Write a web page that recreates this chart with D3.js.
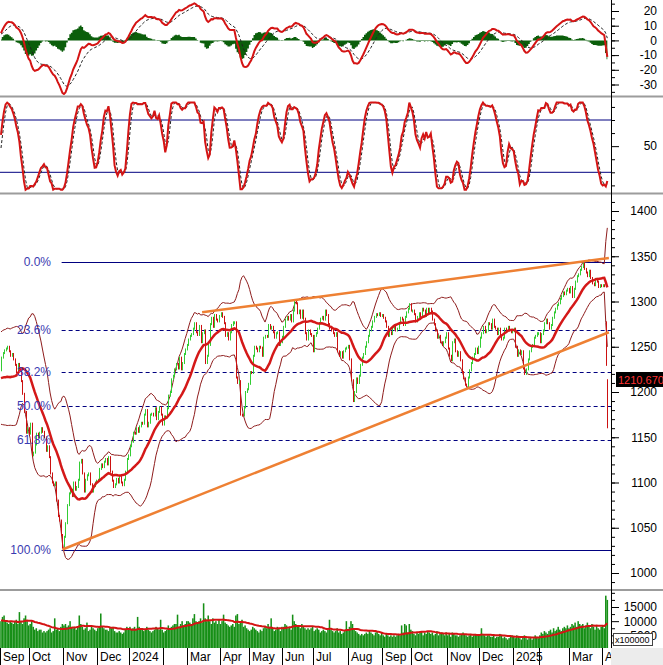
<!DOCTYPE html>
<html>
<head>
<meta charset="utf-8">
<script src="https://cdn.jsdelivr.net/npm/d3@7"></script>
<style>
  body { margin: 0; background: #fff; }
  svg { display: block; font-family: "Liberation Sans", Arial, sans-serif; }
</style>
</head>
<body>
<svg id="chart" width="663" height="665"></svg>
<script>
// month labels on the time axis (Feb has no label in the original)
const monthLabels = ["Sep", "Oct", "Nov", "Dec", "2024", "", "Mar", "Apr", "May", "Jun", "Jul", "Aug",
  "Sep", "Oct", "Nov", "Dec", "2025", "", "Mar", "Apr"];

// Jul-Aug 2023, only used so the indicators are warmed up at the left edge
const warmupCloses = [1125, 1128, 1135, 1140, 1138, 1145, 1150, 1155, 1160, 1165, 1172, 1170, 1175, 1180, 1178,
  1185, 1192, 1195, 1200, 1205, 1207,
  1215, 1222, 1218, 1225, 1232, 1240, 1245, 1242, 1247, 1244, 1235, 1230, 1222, 1208, 1178, 1180, 1172, 1180,
  1186, 1192, 1200, 1212, 1224];
const warmupVolumes = [8, 9, 8.5, 10, 9, 8, 9.5, 10, 9, 11, 10, 9, 8.5, 9, 10, 11, 9.5, 10, 11, 12, 10,
  11, 12, 10, 11, 12, 13, 12, 10, 11, 9, 10, 9.5, 10, 11, 14, 10, 9, 8.5, 9, 8, 9, 9.5, 10];

// daily closes, one list per month (Sep 2023 .. Apr 2025)
const closesByMonth = [
  [1238, 1243, 1246, 1248, 1250, 1245, 1240, 1242, 1236, 1230, 1222, 1231, 1226, 1212, 1198, 1178, 1155, 1160, 1154],
  [1165, 1130, 1133, 1142, 1154, 1150, 1155, 1160, 1156, 1150, 1135, 1140, 1128, 1110, 1100, 1097, 1100, 1080, 1063, 1058, 1042, 1028],
  [1040, 1055, 1075, 1088, 1092, 1085, 1100, 1092, 1095, 1103, 1122, 1125, 1110, 1090, 1103, 1108, 1110, 1098, 1090, 1096, 1100, 1102],
  [1103, 1115, 1120, 1117, 1123, 1126, 1120, 1128, 1112, 1102, 1095, 1098, 1104, 1100, 1106, 1100, 1097, 1103, 1112, 1126, 1130],
  [1140, 1145, 1155, 1154, 1160, 1156, 1162, 1166, 1165, 1175, 1180, 1162, 1166, 1175, 1176, 1174, 1182, 1170, 1178, 1183, 1175, 1164],
  [1173, 1172, 1182, 1196, 1200, 1214, 1218, 1225, 1231, 1226, 1238, 1225, 1232, 1242, 1247, 1252],
  [1258, 1262, 1264, 1270, 1276, 1266, 1263, 1273, 1255, 1265, 1268, 1232, 1240, 1252, 1275, 1282, 1272, 1285, 1280, 1278, 1284],
  [1287, 1283, 1276, 1262, 1265, 1258, 1266, 1274, 1277, 1277, 1216, 1210, 1212, 1175, 1174, 1183, 1200, 1203, 1209],
  [1222, 1221, 1240, 1250, 1248, 1245, 1250, 1249, 1240, 1260, 1262, 1261, 1274, 1270, 1272, 1266, 1260, 1265, 1266, 1252, 1255, 1261],
  [1272, 1280, 1283, 1280, 1285, 1278, 1290, 1300, 1298, 1287, 1290, 1282, 1290, 1281, 1265, 1258, 1268, 1264, 1262, 1245],
  [1262, 1265, 1270, 1276, 1281, 1283, 1280, 1290, 1285, 1275, 1270, 1268, 1265, 1262, 1265, 1245, 1240, 1244, 1238, 1245, 1248, 1249, 1251],
  [1236, 1213, 1190, 1200, 1215, 1210, 1218, 1230, 1238, 1242, 1250, 1255, 1262, 1268, 1272, 1278, 1283, 1286, 1285, 1287, 1284, 1285],
  [1282, 1278, 1272, 1262, 1266, 1264, 1270, 1274, 1268, 1270, 1276, 1282, 1280, 1274, 1283, 1288, 1292, 1297, 1290],
  [1290, 1286, 1278, 1283, 1287, 1284, 1292, 1290, 1284, 1292, 1288, 1292, 1289, 1280, 1275, 1268, 1260, 1262, 1255, 1252, 1255, 1260, 1265],
  [1248, 1240, 1235, 1255, 1258, 1245, 1240, 1244, 1235, 1222, 1215, 1208, 1206, 1216, 1224, 1232, 1238, 1242, 1248, 1243, 1250],
  [1260, 1265, 1272, 1266, 1268, 1276, 1275, 1270, 1280, 1272, 1270, 1264, 1270, 1262, 1258, 1260, 1270, 1268, 1272, 1268, 1266, 1267],
  [1270, 1250, 1240, 1246, 1242, 1245, 1226, 1220, 1225, 1236, 1245, 1250, 1252, 1260, 1262, 1265, 1265],
  [1255, 1264, 1268, 1276, 1280, 1276, 1270, 1274, 1282, 1288, 1292, 1296, 1298, 1303, 1306, 1310, 1308, 1312, 1314, 1310],
  [1316, 1305, 1314, 1322, 1328, 1330, 1335, 1338, 1342, 1336, 1332, 1328, 1334, 1326, 1320, 1318, 1325, 1322, 1316, 1318, 1317],
  [1318, 1317, 1229.84, 1210.67]
];

// daily volume in thousands of x100000 shares, one list per month
const volumesByMonth = [
  [10, 11.5, 12, 10, 9.5, 9, 10, 9.5, 9, 10, 10.5, 9, 13.2, 10, 9, 11, 12, 10, 8.5],
  [9, 10, 8, 7, 7.5, 6.5, 7, 7, 6, 6.5, 6, 6.5, 7, 7.5, 6, 6.5, 11, 7, 7.5, 6.5, 8, 9],
  [8.5, 9, 8, 8.5, 10, 8, 7.5, 8, 7, 8, 12, 9, 8, 7, 7.5, 9.5, 6.5, 7, 8, 7.5, 7, 6.5],
  [7.5, 8, 12.7, 8, 7.5, 7, 7, 6.5, 8, 7.5, 8, 6.5, 6, 6, 6.5, 6, 5.5, 6, 7, 8, 7.5],
  [8, 7, 7.5, 8, 7, 11.5, 8, 7, 7.5, 6.5, 7, 8, 7, 6.5, 6, 6.5, 7, 8, 7.5, 7, 10.5, 7],
  [6, 6.5, 7, 8.5, 7, 8, 8.5, 9, 9, 12.3, 8, 9, 10, 8.5, 9, 10],
  [10, 9.5, 9, 11, 12.5, 10, 9, 10, 11, 9.5, 16.3, 11, 10, 12, 10, 9, 11, 9.5, 10, 9, 10.5],
  [9, 10, 12.3, 9.5, 9, 8.5, 8, 8.5, 9, 8, 12, 12.5, 9, 10, 10.5, 8, 8.5, 7.5, 7],
  [6.5, 7, 8, 7.5, 7, 6.5, 6, 7, 6.5, 7.5, 8, 7.5, 9, 8, 11, 7.5, 6.5, 7, 8, 7.5, 6.5, 8],
  [8, 9, 8.5, 7.5, 8, 7, 12.3, 10, 9, 8, 8.5, 7.5, 9, 8, 7.5, 7, 7.5, 7, 7.5, 8],
  [6.5, 7, 7.5, 7, 6, 6.5, 7, 6.5, 6, 7, 10.5, 7, 6.5, 6, 6.5, 7.5, 6, 6.5, 5.5, 6, 6.5, 10, 7],
  [8, 10, 9, 7, 6.5, 6, 5.5, 5, 5.5, 5, 5.5, 6, 5.5, 6.5, 6, 5.5, 5, 6, 6.5, 5.5, 5, 6],
  [5, 4.5, 5.5, 5, 4.5, 5, 4.5, 5, 4.5, 5, 5.5, 5, 8.5, 6, 9, 8.5, 6, 9, 7],
  [6.5, 5.5, 5, 6, 5.5, 6, 6.5, 5, 6, 5.5, 6.5, 6, 5.5, 6, 5, 5.5, 6.5, 5, 5.5, 6, 5.5, 5, 6],
  [5, 5.5, 4.5, 6, 5.5, 5, 5, 4.5, 5, 5.5, 6, 5.5, 5, 4.5, 5, 5.5, 4.5, 5, 5.5, 5, 5],
  [5, 7.5, 5.5, 5, 4.5, 5, 5, 4.5, 4.5, 5, 4, 4.5, 4.5, 5.5, 5, 4, 4.5, 4, 3.5, 4, 4.5, 5],
  [4.5, 4, 5, 4.5, 4, 3.5, 4.5, 5, 4, 3.5, 4, 4.5, 3.5, 4, 5, 4.5, 4],
  [5, 6, 5.5, 6.5, 6, 5.5, 6.5, 7, 6, 7.5, 6.5, 7, 8, 7, 6.5, 7.5, 8, 7.5, 8.5, 7.5],
  [8, 9, 8.5, 9.5, 8, 10, 9, 8.5, 9, 7.5, 8.5, 9.5, 8, 7.5, 9, 8, 7, 8.5, 7.5, 7, 8],
  [8.5, 7.5, 19, 17.5]
];

// bars whose high/low is not the prev-close..close span: [day, high, low]
const barOverrides = [[394, 1277, 1230], [395, 1213, 1161]];

const fibHigh = 1344;
const fibLow = 1025;
const fibRatios = [0, 0.236, 0.382, 0.5, 0.618, 1];
const trendUpper = [[131, 1288], [396, 1348]];
const trendLower = [[40, 1026], [396, 1266]];
const lastPrice = 1210.67;

const svg = d3.select('#chart');
const W = 663;
const axisX = 611;

const closes = warmupCloses.concat(closesByMonth.flat());
const volumes = warmupVolumes.concat(volumesByMonth.flat()).map(v => v * 1000);
const off = warmupCloses.length;
const n = closes.length - off;

// bar extents
const highs = closes.map((c, g) => g === 0 ? c : Math.max(c, closes[g - 1]));
const lows = closes.map((c, g) => g === 0 ? c : Math.min(c, closes[g - 1]));
barOverrides.forEach(([i, h, l]) => { highs[i + off] = h; lows[i + off] = l; });

// indicators
const sma = (arr, p) => arr.map((_, i) => i < p - 1 ? null : d3.mean(arr.slice(i - p + 1, i + 1)));
const ema = (arr, p) => { const k = 2 / (p + 1); let prev; return arr.map((v, i) => prev = i === 0 ? v : v * k + prev * (1 - k)); };

const ma20 = sma(closes, 20);
const sd20 = closes.map((_, i) => {
  if (i < 19) return null;
  const s = closes.slice(i - 19, i + 1), m = d3.mean(s);
  return Math.sqrt(d3.mean(s, v => (v - m) * (v - m)));
});
const ema26 = ema(closes, 26);
const macd = ema(closes, 12).map((v, i) => v - ema26[i]);
const signal = ema(macd, 9);
const raw = closes.map((c, i) => {
  if (i < 13) return 50;
  const hi = d3.max(highs.slice(i - 13, i + 1)), lo = d3.min(lows.slice(i - 13, i + 1));
  return hi === lo ? 50 : (c - lo) / (hi - lo) * 100;
});
const stochK = sma(raw, 4).map(v => v ?? 50);
const stochD = sma(stochK, 3);
const volMa = sma(volumes, 20);

const days = d3.range(n).map(i => {
  const g = i + off;
  return {
    i, close: closes[g], open: closes[g - 1], high: highs[g], low: lows[g], vol: volumes[g],
    ma: ma20[g], up: ma20[g] + 2 * sd20[g], dn: ma20[g] - 2 * sd20[g],
    macd: macd[g], signal: signal[g], hist: macd[g] - signal[g], k: stochK[g], d: stochD[g], vma: volMa[g]
  };
});

// scales
const x = d3.scaleLinear().domain([0, 395]).range([1, 1 + 395 * 1.535]);
const yMacd = d3.scaleLinear().domain([-30, 20]).range([84.5, 11]);
const yStoch = d3.scaleLinear().domain([20, 80]).range([172.3, 120]);
const yMain = d3.scaleLinear().domain([1000, 1400]).range([573, 211]);
const yVol = d3.scaleLinear().domain([0, 15000]).range([649.5, 607]);

const defs = svg.append('defs');
const clip = (id, x0, y0, x1, y1) => defs.append('clipPath').attr('id', id)
  .append('rect').attr('x', x0).attr('y', y0).attr('width', x1 - x0).attr('height', y1 - y0);
clip('c-macd', 0, 0, axisX, 95);
clip('c-stoch', 0, 98, axisX, 192);
clip('c-main', 0, 195, axisX, 589);
clip('c-vol', 0, 591, axisX, 648);
clip('c-time', 0, 648, axisX, 665);

// panel separators
[96.5, 193.5, 590].forEach(y => svg.append('line')
  .attr('x1', 0).attr('x2', W).attr('y1', y).attr('y2', y)
  .attr('stroke', '#9c9c9c').attr('stroke-width', 2));

// ---- MACD panel
const gm = svg.append('g').attr('clip-path', 'url(#c-macd)');
gm.append('path')
  .datum(days)
  .attr('fill', '#0b5e0b')
  .attr('d', d3.area().x(d => x(d.i)).y0(yMacd(0)).y1(d => yMacd(d.hist)).curve(d3.curveStep));
gm.append('path')
  .datum(days)
  .attr('fill', 'none').attr('stroke', '#222').attr('stroke-width', 1).attr('stroke-dasharray', '3,2')
  .attr('d', d3.line().x(d => x(d.i)).y(d => yMacd(d.signal)));
gm.append('path')
  .datum(days)
  .attr('fill', 'none').attr('stroke', '#d41414').attr('stroke-width', 2)
  .attr('d', d3.line().x(d => x(d.i)).y(d => yMacd(d.macd)));

// ---- Stochastic panel
const gs = svg.append('g').attr('clip-path', 'url(#c-stoch)');
[80, 20].forEach(v => gs.append('line')
  .attr('x1', 0).attr('x2', axisX).attr('y1', yStoch(v)).attr('y2', yStoch(v))
  .attr('stroke', '#000080').attr('stroke-width', 1));
gs.append('path')
  .datum(days)
  .attr('fill', 'none').attr('stroke', '#222').attr('stroke-width', 1).attr('stroke-dasharray', '3,2')
  .attr('d', d3.line().x(d => x(d.i)).y(d => yStoch(d.d)));
gs.append('path')
  .datum(days)
  .attr('fill', 'none').attr('stroke', '#d41414').attr('stroke-width', 2)
  .attr('d', d3.line().x(d => x(d.i)).y(d => yStoch(d.k)));

// ---- Main price panel
const g = svg.append('g').attr('clip-path', 'url(#c-main)');

// Fibonacci levels
const fib = fibRatios.map(r => ({ r, v: fibHigh - (fibHigh - fibLow) * r }));
g.selectAll('.fib')
  .data(fib)
  .enter().append('line')
    .attr('x1', x(39.5)).attr('x2', axisX)
    .attr('y1', d => Math.round(yMain(d.v)) + 0.5).attr('y2', d => Math.round(yMain(d.v)) + 0.5)
    .attr('stroke', '#000080').attr('stroke-width', 1)
    .attr('stroke-dasharray', d => d.r === 0 || d.r === 1 ? null : '4,3');
svg.selectAll('.fib-label')
  .data(fib)
  .enter().append('text')
    .attr('x', 51).attr('y', d => yMain(d.v) + 4)
    .attr('text-anchor', 'end').attr('font-size', 12).attr('fill', '#3a3ab0')
    .text(d => (d.r * 100).toFixed(1) + '%');

// Bollinger bands and MA20
const bandLine = key => d3.line().x(d => x(d.i)).y(d => yMain(d[key]));
['up', 'dn'].forEach(k => g.append('path')
  .datum(days)
  .attr('fill', 'none').attr('stroke', '#8e1c1c').attr('stroke-width', 1)
  .attr('d', bandLine(k)));

// price bars
g.selectAll('.bar')
  .data(days)
  .enter().append('line')
    .attr('x1', d => Math.round(x(d.i)) + 0.5).attr('x2', d => Math.round(x(d.i)) + 0.5)
    .attr('y1', d => yMain(d.high) - 1)
    .attr('y2', d => Math.max(yMain(d.low) + 1, yMain(d.high) + 2))
    .attr('stroke', d => (barOverrides.some(o => o[0] === d.i) ? d.close < d.high : d.close < d.open) ? '#cc1111' : '#33cc33')
    .attr('stroke-width', 1);

g.append('path')
  .datum(days)
  .attr('fill', 'none').attr('stroke', '#d41818').attr('stroke-width', 2.5)
  .attr('d', bandLine('ma'));

// trendlines
[trendUpper, trendLower].forEach(t => g.append('line')
  .attr('x1', x(t[0][0])).attr('y1', yMain(t[0][1]))
  .attr('x2', x(t[1][0])).attr('y2', yMain(t[1][1]))
  .attr('stroke', '#ee8033').attr('stroke-width', 2.5));

// ---- Volume panel
const gv = svg.append('g').attr('clip-path', 'url(#c-vol)');
gv.selectAll('.vol')
  .data(days)
  .enter().append('rect')
    .attr('x', d => x(d.i) - 0.77).attr('width', 1.54)
    .attr('y', d => yVol(d.vol)).attr('height', d => yVol(0) - yVol(d.vol))
    .attr('fill', '#168f16');
gv.append('path')
  .datum(days)
  .attr('fill', 'none').attr('stroke', '#d41414').attr('stroke-width', 2)
  .attr('d', d3.line().x(d => x(d.i)).y(d => yVol(d.vma)));

// ---- right axes
svg.append('line')
  .attr('x1', axisX + 0.5).attr('x2', axisX + 0.5).attr('y1', 0).attr('y2', 648)
  .attr('stroke', '#000');

function rightAxis(scale, major, minor, y0, y1) {
  const keep = v => scale(v) >= y0 && scale(v) <= y1;
  svg.append('g')
    .attr('transform', `translate(${axisX},0)`)
    .call(d3.axisRight(scale).tickValues(minor.filter(keep)).tickSize(4).tickFormat(''))
    .call(a => a.select('.domain').remove());
  svg.append('g')
    .attr('transform', `translate(${axisX},0)`)
    .call(d3.axisRight(scale).tickValues(major.filter(keep)).tickSize(8).tickFormat(d => String(d)))
    .call(a => a.select('.domain').remove())
    .call(a => a.selectAll('text')
      .attr('x', 46).attr('text-anchor', 'end')
      .attr('font-size', 12).attr('font-family', '"Liberation Sans", Arial, sans-serif').attr('fill', '#000'));
}
rightAxis(yMacd, [20, 10, 0, -10, -20, -30], d3.range(-35, 30, 5), 0, 94);
rightAxis(yStoch, [50], [95, 80, 65, 35, 20, 5], 98, 192);
rightAxis(yMain, d3.range(1000, 1401, 50), d3.range(980, 1421, 10), 196, 588);
rightAxis(yVol, [15000, 10000, 5000], [20000, 17500, 12500, 7500, 2500], 591, 647);

// last price box
svg.append('rect').attr('x', 616).attr('y', 372).attr('width', 47).attr('height', 15).attr('fill', '#000');
svg.append('text')
  .attr('x', 618).attr('y', 383.5)
  .attr('font-size', 11).attr('fill', '#ff3232')
  .text(lastPrice.toFixed(3));

// volume multiplier box and corner
svg.append('rect').attr('x', 611).attr('y', 648).attr('width', 52).attr('height', 17).attr('fill', '#ececec');
svg.append('rect').attr('x', 613.5).attr('y', 633.5).attr('width', 39).attr('height', 12)
  .attr('fill', '#fff').attr('stroke', '#444');
svg.append('text').attr('x', 615).attr('y', 643).attr('font-size', 9).attr('fill', '#000').text('x100000');

// ---- time axis
let start = 0;
const monthStarts = closesByMonth.map((m, k) => { const s = start; start += m.length; return { s, label: monthLabels[k] }; });
const ticks = svg.append('g').attr('clip-path', 'url(#c-time)');
monthStarts.forEach(m => {
  const xx = Math.round(x(m.s)) - 0.5;
  ticks.append('line')
    .attr('x1', xx).attr('x2', xx).attr('y1', 648).attr('y2', 665)
    .attr('stroke', '#000');
  ticks.append('text')
    .attr('x', xx + 2.5).attr('y', 661)
    .attr('font-size', 12).attr('fill', '#000')
    .text(m.label);
});
</script>
</body>
</html>
